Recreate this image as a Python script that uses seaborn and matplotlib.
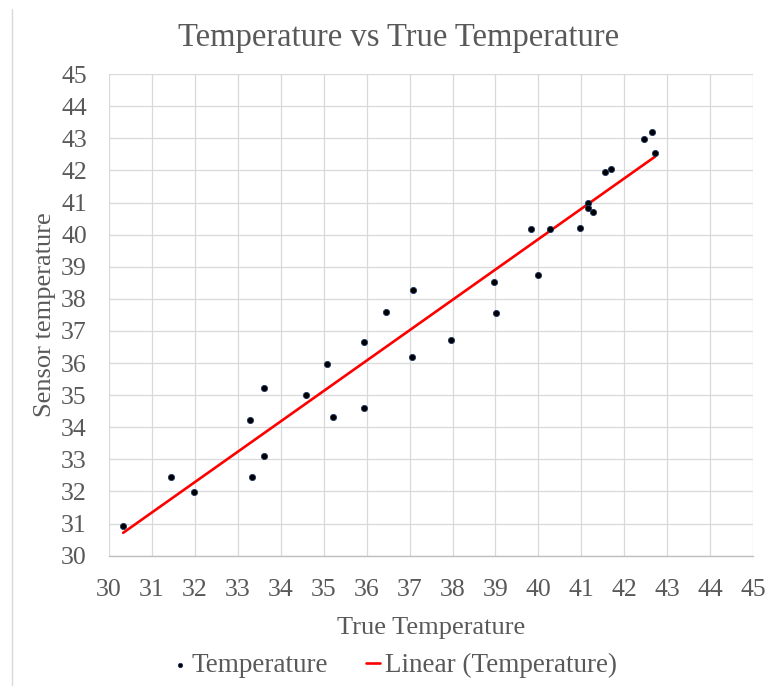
import numpy as np
import pandas as pd
import matplotlib
matplotlib.use("Agg")
import matplotlib.pyplot as plt
import seaborn as sns

# readings taken off the chart
true_temp = [30.33, 31.44, 31.99, 33.28, 33.34, 33.60, 33.61, 34.59, 35.07, 35.22,
             35.93, 35.94, 36.44, 37.05, 37.07, 37.97, 38.97, 39.02, 39.83, 39.99,
             40.26, 40.97, 41.15, 41.15, 41.27, 41.54, 41.69, 42.46, 42.65, 42.72]
sensor_temp = [30.92, 32.44, 31.98, 34.24, 32.44, 33.11, 35.21, 35.01, 35.98, 34.32,
               34.59, 36.66, 37.59, 36.18, 38.29, 36.72, 38.51, 37.55, 40.19, 38.74,
               40.19, 40.22, 40.99, 40.82, 40.70, 41.95, 42.05, 42.97, 43.19, 42.53]
ticks = list(range(30, 46))

df = pd.DataFrame({"True Temperature": true_temp, "Sensor temperature": sensor_temp})

# linear trendline (least squares), drawn between the extreme x values
slope, intercept = np.polyfit(df["True Temperature"], df["Sensor temperature"], 1)
trend = pd.DataFrame({"x": [min(true_temp), max(true_temp)]})
trend["y"] = slope * trend["x"] + intercept

sns.set_style("white")
plt.rcParams["font.family"] = ["Liberation Serif", "DejaVu Serif"]
grey = "#595959"

fig = plt.figure(figsize=(7.7, 6.86), dpi=100)
ax = fig.add_axes([0.1416, 0.190, 0.8364, 0.702])

sns.lineplot(data=trend, x="x", y="y", color="#ff0000", linewidth=1.9,
             ax=ax, label="Linear (Temperature)", zorder=2)
sns.scatterplot(data=df, x="True Temperature", y="Sensor temperature",
                color="black", s=20, edgecolor="#1f3864", linewidth=0.6,
                ax=ax, label="Temperature", zorder=3)

ax.set_xlim(30, 45)
ax.set_ylim(30, 45)
ax.set_xticks(ticks)
ax.set_yticks(ticks)
ax.grid(True, color="#d9d9d9", linewidth=0.9)
ax.set_axisbelow(True)
for side in ["top", "right", "left"]:
    ax.spines[side].set_visible(False)
ax.spines["bottom"].set_color("#bfbfbf")
ax.spines["bottom"].set_linewidth(1.0)
ax.tick_params(axis="x", length=0, labelsize=18.5, colors=grey, pad=17)
ax.tick_params(axis="y", length=0, labelsize=18.5, colors=grey, pad=16)

ax.set_xlabel("True Temperature", fontsize=19, color=grey, labelpad=11)
ax.set_ylabel("Sensor temperature", fontsize=19, color=grey, labelpad=4)
fig.text(0.5175, 0.945, "Temperature vs True Temperature", fontsize=23.5,
         color=grey, ha="center", va="center")

handles, labels = ax.get_legend_handles_labels()
order = [labels.index("Temperature"), labels.index("Linear (Temperature)")]
ax.legend([handles[i] for i in order], [labels[i] for i in order],
          loc="center", bbox_to_anchor=(0.443, -0.228), ncol=2, frameon=False,
          fontsize=19.5, labelcolor=grey, handlelength=0.55, handletextpad=0.15,
          columnspacing=1.4, markerscale=0.7)

fig.add_artist(plt.Line2D([0.0156, 0.0156], [0.0, 0.987], transform=fig.transFigure,
                          color="#d9d9d9", linewidth=1.0))

fig.savefig("out.png", dpi=100)
